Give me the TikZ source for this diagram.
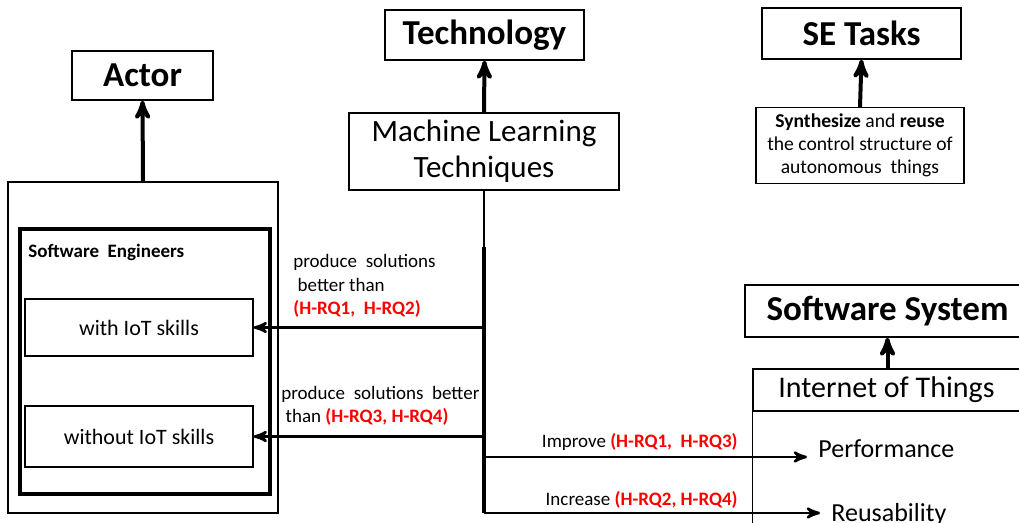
\documentclass[tikz,border=0pt]{standalone}
\usepackage{fontspec}
\setmainfont{Carlito}
\usetikzlibrary{arrows}

\begin{document}
\begin{tikzpicture}[x=0.5pt,y=-0.5pt,>=stealth',
                    every node/.style=  {inner sep=0pt},
                    title box/.style=   {draw,line width=0.7pt,font=\fontsize{17.5}{20}\selectfont\bfseries},
                    plain box/.style=   {draw,line width=0.65pt,align=center},
                    frame box/.style=   {draw,line width=1.6pt},
                    up arrow/.style=    {->,line width=2pt},
                    side arrow/.style=  {->,line width=1.3pt},
                    note/.style=        {align=left,font=\fontsize{9.5}{11.75}\selectfont},
                    rq/.style=          {red,font=\bfseries}]
      \useasboundingbox (0,0) rectangle (1019,523);
      \clip (0,0) rectangle (1019,523);
      % titles
      \node[title box, minimum width=70.5pt, minimum height=24.5pt] (actor) at (142.5,75.5) {Actor};
      \node[title box, minimum width=99.5pt, minimum height=25pt] (tech) at (484.5,35) {Technology};
      \node[title box, minimum width=99.5pt, minimum height=25.5pt] (tasks) at (861.5,33.5) {SE Tasks};
      \node[title box, minimum width=142.5pt, minimum height=26pt] (system) at (887.5,311) {Software System};
      % actor side
      \node[plain box, minimum width=135pt, minimum height=165.5pt] (outer) at (143,347.5) {};
      \node[frame box, minimum width=125pt, minimum height=132.5pt] (engineers) at (145,361.5) {};
      \node[anchor=base west, font=\fontsize{9.5}{11}\selectfont\bfseries] (eng label) at (28,258) {Software\ \ Engineers};
      \node[plain box, minimum width=114pt, minimum height=28.5pt, font=\fontsize{11}{13}\selectfont] (with) at (139,327.5) {with IoT skills};
      \node[plain box, minimum width=114pt, minimum height=30.5pt, font=\fontsize{11}{13}\selectfont] (without) at (139,436.5) {without\ IoT skills};
      % technology side
      \node[plain box, minimum width=135pt, minimum height=38.5pt, font=\fontsize{15.5}{18}\selectfont] (ml) at (484,151.5) {Machine Learning\\Techniques};
      \node[plain box, minimum width=104pt, minimum height=38pt, font=\fontsize{9.8}{11.5}\selectfont] (synth) at (860,145.5)
            {\textbf{Synthesize} and \textbf{reuse}\\the control structure of\\autonomous\ \ things};
      % system side
      \node[plain box, minimum width=138.5pt, minimum height=21pt, font=\fontsize{15}{17}\selectfont] (iot) at (891.5,390) {\hspace*{-5pt}Internet of Things};
      \draw[line width=0.65pt] (iot.south west) -- ++(0,120);
      \node[anchor=base west, font=\fontsize{13}{15}\selectfont] (perf) at (818,458) {Performance};
      \node[anchor=base west, font=\fontsize{13}{15}\selectfont] (reuse) at (831,522) {Reusability};
      \coordinate (perf tip) at ([xshift=-5.5pt,yshift=0.5pt]perf.base west);
      \coordinate (reuse tip) at ([xshift=-5.5pt,yshift=4.5pt]reuse.base west);
      % upward arrows
      \draw[up arrow] (outer.north) -- (actor.south);
      \draw[up arrow] (ml.north) -- (tech.south);
      \draw[up arrow] (synth.north) -- (tasks.south);
      \draw[up arrow] (system.south |- iot.north) -- (system.south);
      % trunk and branches
      \draw[line width=0.8pt] (ml.south) -- ++(0,-28pt) coordinate (trunk top);
      \draw[line width=1.6pt] (trunk top) -- (trunk top |- reuse tip);
      \draw[side arrow] (trunk top |- with.east) -- (with.east);
      \draw[side arrow] (trunk top |- without.east) -- (without.east);
      \draw[side arrow] (trunk top |- perf tip) -- (perf tip);
      \draw[side arrow] (trunk top |- reuse tip) -- (reuse tip);
      % labels
      \node[note, anchor=base west] (note a) at (293,315) {produce\ \ solutions\\\ better than\\\textcolor{red}{\bfseries(H-RQ1,\ \ H-RQ2)}};
      \node[note, anchor=base west] (note b) at (281,423) {produce\ \ solutions\ \ better\\\ than \textcolor{red}{\bfseries(H-RQ3, H-RQ4)}};
      \node[note, anchor=base east] (improve) at (738,448) {Improve \textcolor{red}{\bfseries(H-RQ1,\ \ H-RQ3)}};
      \node[note, anchor=base east] (increase) at (738,506) {Increase \textcolor{red}{\bfseries(H-RQ2, H-RQ4)}};
\end{tikzpicture}
\end{document}
